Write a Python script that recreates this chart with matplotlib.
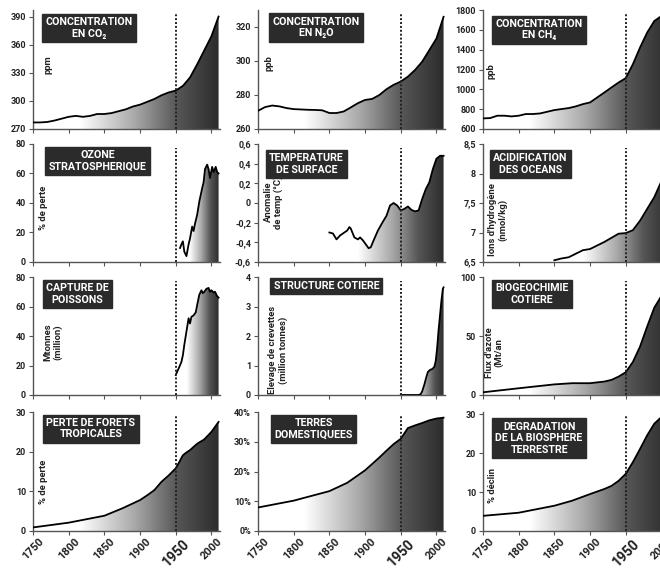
import numpy as np
import matplotlib
matplotlib.use("Agg")
import matplotlib.pyplot as plt
from matplotlib.colors import LinearSegmentedColormap

plt.rcParams['font.family'] = ['Roboto', 'DejaVu Sans']

# ---- data ----
co2_years = list(range(1750, 2011, 10))
co2 = [277, 277, 277.5, 279, 281, 283, 284, 283, 284, 286, 286, 287, 289, 291,
       294, 296, 299, 302, 306, 309, 311, 316, 325, 339, 354, 369, 390]

n2o_years = list(range(1750, 2011, 10))
n2o = [270.7, 272.9, 273.8, 273.3, 272.3, 271.7, 271.5, 271.3, 271.2, 271, 269.4,
       269.4, 270.3, 272.7, 275.2, 277.1, 277.7, 280, 283.4, 286, 287.9, 290.8,
       294.7, 299.6, 306.4, 313.2, 326]

ch4_years = list(range(1750, 2011, 10))
ch4 = [707, 710, 734, 734, 727, 734, 751, 751, 757, 774, 791, 801, 811, 828, 851,
       868, 918, 968, 1019, 1069, 1113, 1253, 1421, 1572, 1689, 1739, 1750]

ozone_years = [1956, 1958, 1960, 1962, 1965, 1968, 1970, 1973, 1975, 1977, 1980,
               1983, 1987, 1989, 1991, 1994, 1996, 1998, 2001, 2003, 2006, 2008, 2010]
ozone = [9.5, 12, 14, 7, 4, 12, 16, 24, 21, 26, 32, 41, 50, 54, 63, 66, 63, 57,
         64.5, 61, 64.5, 61, 60]

temp_years = [1850, 1855, 1860, 1865, 1870, 1875, 1878, 1880, 1885, 1890, 1893,
              1897, 1900, 1905, 1908, 1912, 1918, 1925, 1930, 1935, 1940, 1945,
              1950, 1955, 1960, 1965, 1970, 1975, 1980, 1985, 1990, 1995, 2000,
              2005, 2010]
temp = [-0.30, -0.31, -0.37, -0.33, -0.305, -0.28, -0.245, -0.26, -0.35, -0.37,
        -0.35, -0.38, -0.41, -0.46, -0.45, -0.38, -0.28, -0.19, -0.13, -0.025,
        0.0, -0.025, -0.075, -0.06, -0.035, -0.07, -0.085, -0.075, 0.04, 0.14,
        0.21, 0.345, 0.45, 0.48, 0.48]

acid_years = list(range(1850, 2011, 10))
acid = [6.53, 6.56, 6.58, 6.64, 6.70, 6.72, 6.78, 6.84, 6.91, 6.98, 6.99, 7.04,
        7.2, 7.4, 7.6, 7.87, 8.1]

fish_years = [1950, 1952, 1955, 1958, 1960, 1962, 1965, 1968, 1970, 1972, 1975,
              1978, 1980, 1983, 1986, 1988, 1990, 1993, 1996, 1998, 2000, 2003,
              2005, 2008, 2010]
fish = [13.5, 15.8, 19, 22.5, 27, 34, 43, 52, 48.5, 53, 54, 56, 61, 68, 71, 69,
        70, 72, 72.6, 70, 71, 69.5, 70, 67, 66]

shrimp_years = [1950, 1975, 1978, 1980, 1983, 1986, 1988, 1991, 1994, 1997, 1999,
                2001, 2003, 2005, 2007, 2009, 2010]
shrimp = [0, 0, 0.03, 0.12, 0.35, 0.62, 0.78, 0.85, 0.88, 0.95, 1.15, 1.6, 2.2,
          2.7, 3.2, 3.6, 3.65]

nitro_years = [1750, 1800, 1850, 1875, 1900, 1920, 1930, 1940, 1950, 1960, 1970,
               1980, 1990, 2000, 2010]
nitro = [2.3, 5.7, 9, 10, 10, 11.4, 12.8, 15.6, 19.3, 28, 41, 58, 74, 84, 88]

forest_years = [1750, 1800, 1850, 1875, 1900, 1910, 1920, 1930, 1940, 1950, 1955,
                1960, 1965, 1970, 1980, 1990, 2000, 2010]
forest = [0.9, 2.1, 3.85, 5.7, 7.8, 9, 10.3, 12.4, 14, 15.8, 17.4, 19.1, 19.8,
          20.4, 22, 23.1, 25, 27.5]

land_years = [1750, 1800, 1850, 1875, 1900, 1920, 1930, 1940, 1950, 1960, 1970,
              1980, 1990, 2000, 2010]
land = [0.079, 0.102, 0.134, 0.162, 0.204, 0.247, 0.27, 0.292, 0.31, 0.346,
        0.355, 0.363, 0.372, 0.378, 0.381]

bio_years = [1750, 1800, 1850, 1875, 1900, 1920, 1930, 1940, 1950, 1960, 1970,
             1980, 1990, 2000, 2010]
bio = [3.9, 4.7, 6.5, 7.8, 9.5, 10.8, 11.6, 12.9, 14.7, 17.7, 21.1, 24.6, 27.6,
       29.3, 30.5]

titles = ["CONCENTRATION\nEN CO\u2082", "CONCENTRATION\nEN N\u2082O",
          "CONCENTRATION\nEN CH\u2084", "OZONE\nSTRATOSPHERIQUE",
          "TEMPERATURE\nDE SURFACE", "ACIDIFICATION\nDES OCEANS",
          "CAPTURE DE\nPOISSONS", "STRUCTURE COTIERE", "BIOGEOCHIMIE\nCOTIERE",
          "PERTE DE FORETS\nTROPICALES", "TERRES\nDOMESTIQUEES",
          "DEGRADATION\nDE LA BIOSPHERE\nTERRESTRE"]
ylabels = ["ppm", "ppb", "ppb", "% de perte", "Anomalie\nde temp (°C)",
           "Ions d'hydrogène\n(nmol/kg)", "Mtonnes\n(million)",
           "Elevage de crevettes\n(million tonnes)", "Flux d'azote\n(Mt/an", "% de perte",
           "", "% déclin"]
yticks = [[270, 300, 330, 360, 390], [260, 280, 300, 320],
          [600, 800, 1000, 1200, 1400, 1600, 1800], [0, 20, 40, 60, 80],
          [-0.6, -0.4, -0.2, 0, 0.2, 0.4, 0.6], [6.5, 7, 7.5, 8, 8.5],
          [0, 20, 40, 60, 80], [0, 1, 2, 3, 4], [0, 50, 100], [0, 10, 20, 30],
          [0, 0.1, 0.2, 0.3, 0.4], [0, 10, 20, 30]]
ytick_labels = [None, None, None, None,
                ["-0,6", "-0,4", "-0,2", "0", "0,2", "0,4", "0,6"],
                ["6,5", "7", "7,5", "8", "8,5"],
                None, None, None, None,
                ["0%", "10%", "20%", "30%", "40%"], None]
ylims = [(270, 397), (260, 330), (600, 1800), (0, 80), (-0.6, 0.6), (6.5, 8.5),
         (0, 80), (0, 4), (0, 100), (0, 30), (0, 0.4), (0, 30.6)]
series = [(co2_years, co2), (n2o_years, n2o), (ch4_years, ch4),
          (ozone_years, ozone), (temp_years, temp), (acid_years, acid),
          (fish_years, fish), (shrimp_years, shrimp), (nitro_years, nitro),
          (forest_years, forest), (land_years, land), (bio_years, bio)]
xticks = [1750, 1800, 1850, 1900, 1950, 2000]

# title box centre and y-label position, in axes fractions
title_pos = [(0.30, 0.85), (0.31, 0.853), (0.30, 0.836), (0.345, 0.86),
             (0.26, 0.83), (0.254, 0.83), (0.238, 0.856), (0.366, 0.924),
             (0.262, 0.856), (0.31, 0.861), (0.297, 0.861), (0.30, 0.78)]
ylabel_pos = [(0.08, 0.54), (0.059, 0.555), (0.043, 0.49), (0.055, 0.46),
              (0.085, 0.51), (0.08, 0.36), (0.107, 0.45), (0.107, 0.38),
              (0.06, 0.36), (0.055, 0.41), (0.05, 0.5), (0.05, 0.38)]

grad = LinearSegmentedColormap.from_list(
    "grad", [(0, "white"), (0.25, "white"), (0.55, "#a8a8a8"),
             (0.78, "#555555"), (1, "#2c2c2c")])

W, H = 660, 568
col_left = [33, 258, 483]
row_top = [10, 144, 277, 412]
row_bot = [129, 262, 395, 531]
width_px = 187

fig = plt.figure(figsize=(6.6, 5.68), dpi=100)

for i in range(12):
    r, c = divmod(i, 3)
    ax = fig.add_axes([col_left[c] / W, 1 - row_bot[r] / H, width_px / W,
                       (row_bot[r] - row_top[r]) / H])
    x, y = series[i]
    lo, hi = ylims[i]

    poly = ax.fill_between(x, lo, y, facecolor='none', edgecolor='none')
    im = ax.imshow(np.linspace(0, 1, 256).reshape(1, -1), cmap=grad,
                   extent=[x[0], x[-1], lo, hi], aspect='auto', origin='lower',
                   zorder=1)
    im.set_clip_path(poly.get_paths()[0], transform=ax.transData)
    ax.plot(x, y, color='black', lw=1.3, zorder=3)
    ax.axvline(1950, ymin=0, ymax=0.97, color='#222222', ls=(0, (1, 1)),
               lw=1.4, zorder=4)

    ax.set_xlim(1750, 2012)
    ax.set_ylim(lo, hi)
    ax.set_xticks(xticks)
    ax.set_yticks(yticks[i])
    if ytick_labels[i] is not None:
        ax.set_yticklabels(ytick_labels[i])
    for lab in ax.get_yticklabels():
        lab.set_fontweight('bold')

    for s in ['top', 'right']:
        ax.spines[s].set_visible(False)
    for s in ['left', 'bottom']:
        ax.spines[s].set_color('#555555')
        ax.spines[s].set_linewidth(1.0)
    ax.tick_params(direction='out', length=3, width=0.8, colors='#555555',
                   labelcolor='#222222', labelsize=6.5, pad=2)

    if r == 3:
        ax.set_xticklabels([str(t) for t in xticks], rotation=45, ha='center',
                           va='top', fontweight='bold', fontsize=8)
        ax.get_xticklabels()[4].set_fontsize(10)
        ax.tick_params(axis='x', pad=1)
    else:
        ax.set_xticklabels([])

    tx, ty = title_pos[i]
    ax.text(tx, ty, titles[i], transform=ax.transAxes, ha='center', va='center',
            color='white', fontweight='bold', fontsize=7.7, linespacing=1.2,
            zorder=6, bbox=dict(boxstyle='square,pad=0.3', fc='#2b2b2b',
                                ec='#2b2b2b'))
    lx, ly = ylabel_pos[i]
    ax.text(lx, ly, ylabels[i], transform=ax.transAxes, rotation=90, ha='center',
            va='center', fontsize=6.8, fontweight='bold', color='#222222',
            linespacing=1.1, zorder=5)

fig.savefig("out.png", dpi=100)
